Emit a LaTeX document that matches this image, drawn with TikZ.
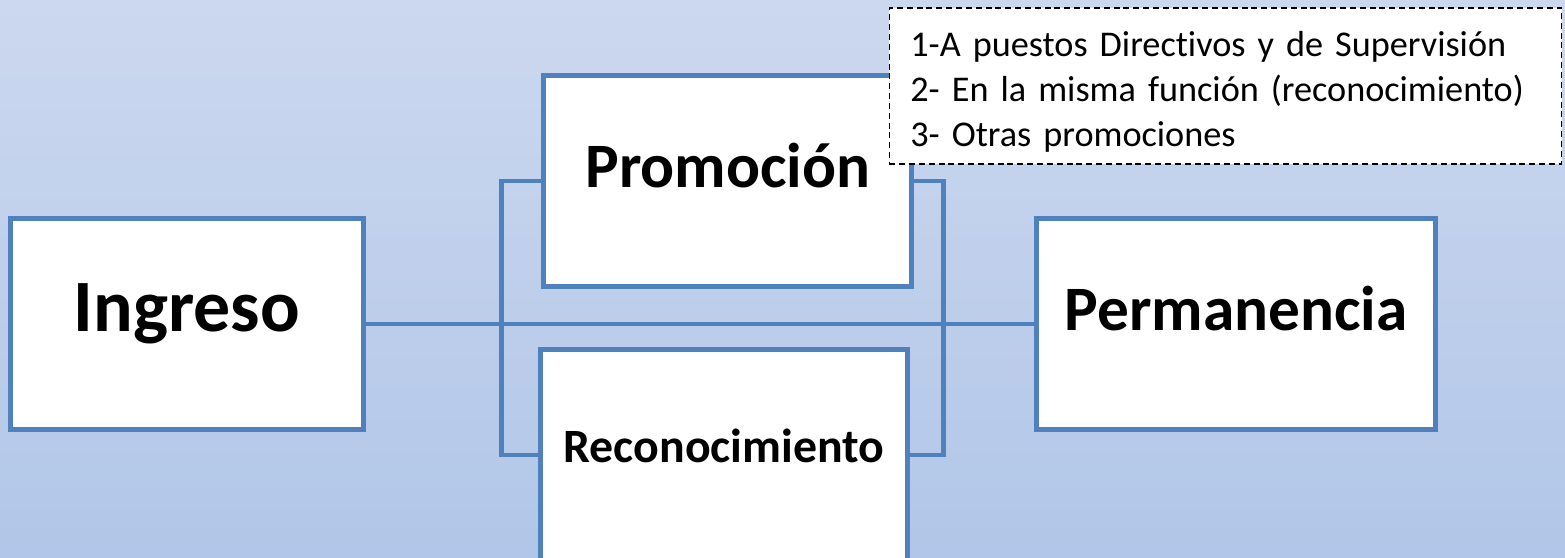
\documentclass[tikz,border=0pt]{standalone}
\usepackage{fontspec}
\setmainfont{Carlito}[Ligatures={NoCommon,NoContextual}, Contextuals=NoAlternate]
\usetikzlibrary{positioning}
\definecolor{azul}{HTML}{4F81BD}
\definecolor{fondoA}{HTML}{CCD8EF}
\definecolor{fondoB}{HTML}{B1C6E8}

\begin{document}
\begin{tikzpicture}[x=0.01cm, y=-0.01cm,
             caja/.style={rectangle, draw=azul, line width=1.4pt, fill=white,
                          inner sep=0pt},
             titulo/.style={anchor=base, inner sep=0pt},
             enlace/.style={draw=azul, line width=1.4pt},
             nota/.style={rectangle, draw=black, fill=white, line width=0.45pt,
                          dash pattern=on 1.7pt off 1.1pt, align=left,
                          text width=6.3cm, inner xsep=0.21cm, text height=0.37cm,
                          font=\fontsize{10.3}{12.7}\selectfont}]
%% fondo degradado
\fill[top color=fondoA, bottom color=fondoB] (0,0) rectangle (1565,558);
\useasboundingbox (0,0) rectangle (1565,558);

%% cajas
\node[caja, minimum width=3.52cm, minimum height=2.11cm] (ingreso)  at (187,324)   {};
\node[caja, minimum width=3.67cm, minimum height=2.10cm] (promo)    at (727.5,181) {};
\node[caja, minimum width=3.66cm, minimum height=2.10cm] (recono)   at (724,455)   {};
\node[caja, minimum width=3.98cm, minimum height=2.10cm] (perma)    at (1236,324)  {};

%% textos de las cajas
\node[titulo, font=\bfseries\fontsize{21}{25}\selectfont] (ingresoT) at (187,332)   {Ingreso};
\node[titulo, font=\bfseries\fontsize{18}{21}\selectfont] (promoT)   at (728,188)   {Promoción};
\node[titulo, font=\bfseries\fontsize{13.6}{16}\selectfont] (reconoT) at (724,463)  {Reconocimiento};
\node[titulo, font=\bfseries\fontsize{18}{21}\selectfont] (permaT)   at (1236,331)  {Permanencia};

%% enlaces
\draw[enlace] (ingreso.east) -- (perma.west);
\draw[enlace] (promo.west) -- ++(-40,0) |- (recono.west);
\draw[enlace] (promo.east) -- ++(30,0) |- (recono.east);

%% nota con los tipos de promocion
\node[nota, minimum height=1.54cm] (tipos) at (1225.5,86)
  {1-A puestos Directivos y de Supervisión\\
   2- En la misma función (reconocimiento)\\
   3- Otras promociones};
\end{tikzpicture}
\end{document}
